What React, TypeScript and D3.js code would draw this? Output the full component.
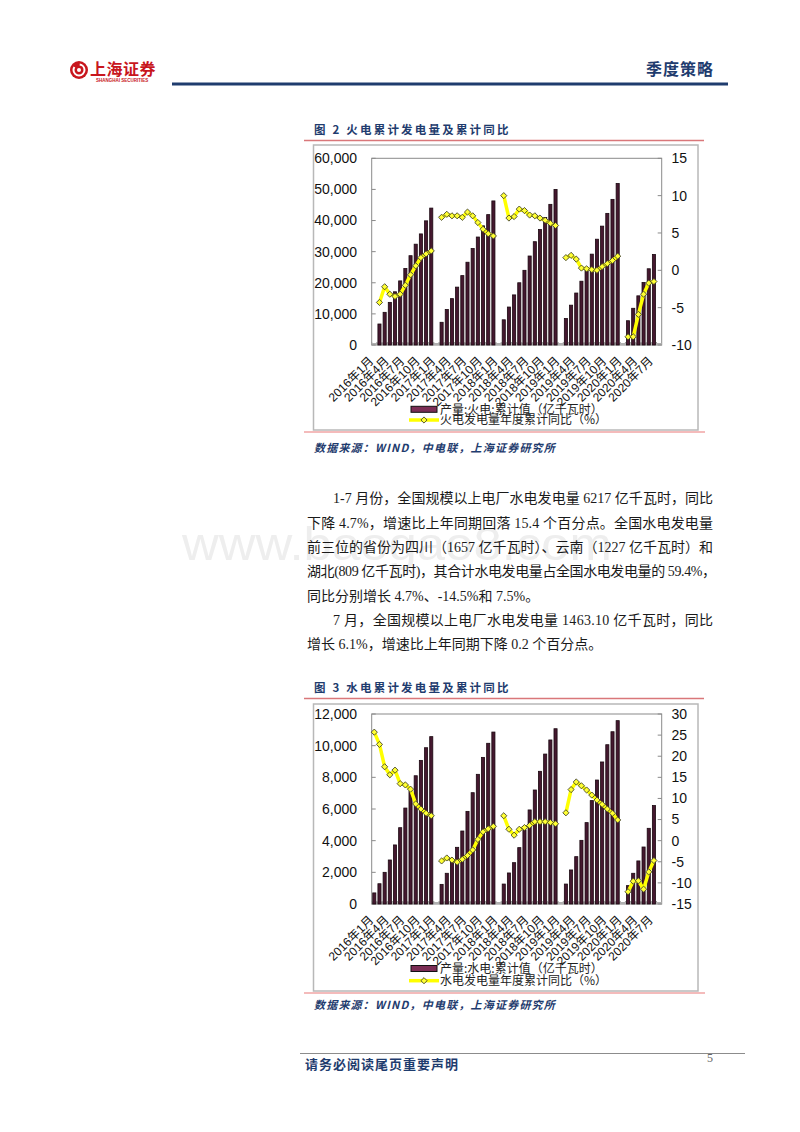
import * as d3 from "d3";

// month slots 2016年1月 .. 2020年8月 (last slot is empty in the source chart)
const months: string[] = d3.range(56).map((i) => `${2016 + Math.floor(i / 12)}年${(i % 12) + 1}月`);

const tickLabels = [
  "2016年1月", "2016年4月", "2016年7月", "2016年10月",
  "2017年1月", "2017年4月", "2017年7月", "2017年10月",
  "2018年1月", "2018年4月", "2018年7月", "2018年10月",
  "2019年1月", "2019年4月", "2019年7月", "2019年10月",
  "2020年1月", "2020年4月", "2020年7月",
];

// 产量:火电:累计值（亿千瓦时）
const thermalOutput: (number | null)[] = [
  null, 6750, 10500, 13700, 17100, 20600, 24600, 28700, 32400, 35700, 39900, 44000,
  null, 7300, 11400, 14900, 18600, 22300, 26600, 31000, 34700, 38300, 41900, 46300,
  null, 8100, 12200, 16100, 20000, 24000, 28600, 33200, 37100, 41000, 45200, 50000,
  null, 8500, 12800, 16700, 20500, 24600, 29200, 34000, 38200, 42300, 46800, 51900,
  null, 7800, 11800, 15800, 20100, 24500, 29100, null,
];

// 火电发电量年度累计同比（%）
const thermalYoy: (number | null)[] = [
  null, -4.3, -2.2, -3.2, -3.5, -3.2, -2.0, -0.6, 0.6, 1.7, 2.2, 2.6,
  null, 7.1, 7.5, 7.3, 7.3, 7.1, 7.8, 7.3, 6.4, 5.5, 4.9, 4.6,
  null, 10.0, 7.0, 7.2, 8.2, 8.0, 7.4, 7.3, 7.0, 6.7, 6.3, 6.0,
  null, 1.7, 2.0, 1.5, 0.3, 0.2, 0.1, 0.0, 0.5, 0.9, 1.3, 1.9,
  null, -8.9, -8.9, -5.9, -3.2, -1.7, -1.5, null,
];

// 产量:水电:累计值（亿千瓦时）
const hydroOutput: (number | null)[] = [
  700, 1280, 2000, 2780, 3730, 4820, 6060, 7100, 8100, 9070, 9870, 10570,
  null, 1240, 1940, 2740, 3580, 4610, 5850, 7030, 8190, 9260, 10150, 10860,
  null, 1260, 1960, 2610, 3560, 4670, 5940, 7200, 8380, 9470, 10360, 11070,
  null, 1260, 2150, 2990, 4020, 5140, 6530, 7830, 8970, 10060, 10880, 11580,
  null, 1160, 1940, 2720, 3600, 4780, 6217, null,
];

// 水电发电量年度累计同比（%）
const hydroYoy: (number | null)[] = [
  25.7, 22.8, 17.5, 15.6, 16.7, 13.5, 13.2, 12.2, 8.7, 7.5, 6.5, 5.9,
  null, -4.8, -4.1, -4.6, -5.1, -4.4, -3.5, -2.2, 0.3, 2.1, 2.8, 3.4,
  null, 5.9, 2.7, 1.3, 2.7, 3.1, 3.6, 4.5, 4.5, 4.5, 4.3, 4.0,
  null, 6.6, 12.1, 13.9, 13.0, 12.0, 10.8, 9.6, 8.6, 7.5, 6.5, 4.9,
  null, -12.1, -9.6, -9.5, -11.5, -7.4, -4.7, null,
];

const bodyLines = [
  "1-7 月份，全国规模以上电厂水电发电量 6217 亿千瓦时，同比",
  "下降 4.7%，增速比上年同期回落 15.4 个百分点。全国水电发电量",
  "前三位的省份为四川（1657 亿千瓦时）、云南（1227 亿千瓦时）和",
  "湖北(809 亿千瓦时)，其合计水电发电量占全国水电发电量的 59.4%，",
  "同比分别增长 4.7%、-14.5%和 7.5%。",
  "7 月，全国规模以上电厂水电发电量 1463.10 亿千瓦时，同比",
  "增长 6.1%，增速比上年同期下降 0.2 个百分点。",
];

const NAVY = "#1f3c6e";
const SANS = "'Liberation Sans', Arial, 'Noto Sans CJK SC', sans-serif";
const CJK = "'Noto Sans CJK SC', sans-serif";
const SERIF = "'Liberation Serif', 'Noto Sans CJK SC', serif";

interface ChartProps {
  title: string;
  titleY: number;
  boxTop: number;
  boxBottom: number;
  plotTop: number;
  plotBottom: number;
  leftMax: number;
  rightDomain: [number, number];
  rightTicks: number;
  bars: (number | null)[];
  yoy: (number | null)[];
  barName: string;
  lineName: string;
  legendY: [number, number];
  sourceY: number;
}

function Chart(p: ChartProps) {
  const L = 371.7;
  const R = 661.7;
  const x = d3.scaleBand<string>().domain(months).range([L, R]);
  const step = x.step();
  const bw = step * 0.6;
  const cx = (m: string) => (x(m) as number) + step / 2;
  const yL = d3.scaleLinear().domain([0, p.leftMax]).range([p.plotBottom, p.plotTop]);
  const yR = d3.scaleLinear().domain(p.rightDomain).range([p.plotBottom, p.plotTop]);
  const lineGen = d3
    .line<number | null>()
    .defined((d) => d != null)
    .x((_, i) => cx(months[i]))
    .y((d) => yR(d as number));
  const diamond = d3.symbol().type(d3.symbolSquare).size(19)();
  const fmt = d3.format(",");

  return (
    <g>
      <text x={314} y={p.titleY + 4} fontSize={11.5} fontWeight="bold" fill={NAVY} fontFamily={CJK} letterSpacing={2.2}>
        {p.title}
      </text>
      <line x1={304} x2={704} y1={p.titleY + 10.5} y2={p.titleY + 10.5} stroke="#d9777a" strokeWidth={1.5} />
      <rect x={313.5} y={p.boxTop} width={384.5} height={p.boxBottom - p.boxTop} fill="#fff" stroke="#b8b8b8" strokeWidth={1.5} />
      <line x1={304} x2={705} y1={p.boxBottom + 2} y2={p.boxBottom + 2} stroke="#f0a5a5" strokeWidth={1.5} />

      {/* plot frame */}
      <rect x={L} y={p.plotTop} width={R - L} height={p.plotBottom - p.plotTop} fill="none" stroke="#8a8a8a" strokeWidth={1} />

      {/* bottom category ticks */}
      {months.map((m) => (
        <line key={"t" + m} x1={x(m) as number} x2={x(m) as number} y1={p.plotBottom} y2={p.plotBottom - 3} stroke="#9a9a9a" strokeWidth={1} />
      ))}
      <line x1={L} x2={R} y1={p.plotBottom - 1} y2={p.plotBottom - 1} stroke="#b0b0b0" strokeWidth={2} />

      {/* left axis */}
      {yL.ticks(6).map((t) => (
        <g key={"l" + t}>
          <line x1={L} x2={L + 4} y1={yL(t)} y2={yL(t)} stroke="#8a8a8a" />
          <text x={357} y={yL(t)} dy="0.35em" textAnchor="end" fontSize={14} fontFamily={SANS} fill="#111">
            {fmt(t)}
          </text>
        </g>
      ))}
      {/* right axis */}
      {yR.ticks(p.rightTicks).map((t) => (
        <g key={"r" + t}>
          <line x1={R - 4} x2={R} y1={yR(t)} y2={yR(t)} stroke="#8a8a8a" />
          <text x={671.5} y={yR(t)} dy="0.35em" textAnchor="start" fontSize={14} fontFamily={SANS} fill="#111">
            {t}
          </text>
        </g>
      ))}

      {/* bars */}
      {p.bars.map((v, i) =>
        v == null ? null : (
          <rect
            key={"b" + i}
            x={cx(months[i]) - bw / 2}
            y={yL(v)}
            width={bw}
            height={p.plotBottom - yL(v)}
            fill="#45182f"
            stroke="#1a0810"
            strokeWidth={0.8}
          />
        )
      )}

      {/* yoy line */}
      <path d={lineGen(p.yoy) || ""} fill="none" stroke="#ffff00" strokeWidth={3.5} strokeLinejoin="round" />
      {p.yoy.map((v, i) =>
        v == null ? null : (
          <path
            key={"d" + i}
            d={diamond || ""}
            transform={`translate(${cx(months[i])},${yR(v)}) rotate(45)`}
            fill="#ffff33"
            stroke="#3a3a2a"
            strokeWidth={0.8}
          />
        )
      )}

      {/* x labels */}
      {tickLabels.map((t) => (
        <text
          key={"x" + t}
          transform={`translate(${cx(t) - 3},${p.plotBottom + 14}) rotate(-45)`}
          textAnchor="end"
          dominantBaseline="central"
          fontSize={12}
          fontFamily={SANS}
          fill="#111"
        >
          {t}
        </text>
      ))}

      {/* legend */}
      <rect x={411} y={p.legendY[0] - 3} width={26} height={6} fill="#7b2d55" stroke="#111" strokeWidth={1} />
      <text x={440} y={p.legendY[0]} dy="0.36em" fontSize={12} fontFamily={CJK} fill="#222">
        {p.barName}
      </text>
      <line x1={409} x2={439} y1={p.legendY[1]} y2={p.legendY[1]} stroke="#ffff00" strokeWidth={3.5} />
      <path d={diamond || ""} transform={`translate(424,${p.legendY[1]}) rotate(45)`} fill="#ffff33" stroke="#3a3a2a" strokeWidth={0.8} />
      <text x={440} y={p.legendY[1]} dy="0.36em" fontSize={12} fontFamily={CJK} fill="#222">
        {p.lineName}
      </text>

      <text x={314} y={p.sourceY + 4} fontSize={11} fontWeight="bold" fontStyle="italic" fill={NAVY} fontFamily={CJK} letterSpacing={1.2}>
        数据来源：WIND，中电联，上海证券研究所
      </text>
    </g>
  );
}

function Logo() {
  return (
    <g>
      <circle cx={79} cy={70} r={9} fill="#c8161d" />
      <circle cx={79} cy={70} r={5.5} fill="none" stroke="#fff" strokeWidth={2} strokeDasharray="20 6" />
      <circle cx={79} cy={70} r={2} fill="#fff" />
      <text x={90} y={75} fontSize={16} fontWeight="bold" fill="#c8161d" fontFamily={CJK} letterSpacing={0.5}>
        上海证券
      </text>
      <text x={96} y={82} fontSize={4.5} fontWeight="bold" fill="#c8161d" fontFamily={SANS}>
        SHANGHAI SECURITIES
      </text>
    </g>
  );
}

export default function App() {
  const lineBase = [503, 527.5, 552, 576, 600.5, 625, 648.5];
  const lineX = [333, 307, 307, 307, 307, 333, 307];
  const lineEnd = [713, 713, 713, 716, null, 713, null];

  return (
    <svg
      width={800}
      height={1132}
      viewBox="0 0 800 1132"
      style={{ position: "absolute", left: 0, top: 0, display: "block", background: "#fff" }}
    >
      <rect width={800} height={1132} fill="#fff" />
      <Logo />
      <text x={714} y={75} textAnchor="end" fontSize={16} fontWeight="bold" fill={NAVY} fontFamily={CJK} letterSpacing={1}>
        季度策略
      </text>
      <line x1={172} x2={728} y1={84} y2={84} stroke={NAVY} strokeWidth={3} />

      <Chart
        title="图 2 火电累计发电量及累计同比"
        titleY={130}
        boxTop={145}
        boxBottom={430}
        plotTop={158.3}
        plotBottom={345}
        leftMax={60000}
        rightDomain={[-10, 15]}
        rightTicks={5}
        bars={thermalOutput}
        yoy={thermalYoy}
        barName="产量:火电:累计值（亿千瓦时）"
        lineName="火电发电量年度累计同比（%）"
        legendY={[409.3, 420]}
        sourceY={448}
      />

      {/* watermark */}
      <text x={182} y={560} fontSize={46} fontFamily={SANS} fill="#eeeeee" textLength={430} lengthAdjust="spacingAndGlyphs">
        www.baogao8.com
      </text>

      {bodyLines.map((t, i) => {
        const end = lineEnd[i];
        return (
          <text
            key={"p" + i}
            x={lineX[i]}
            y={lineBase[i]}
            fontSize={14}
            fontFamily={SERIF}
            fill="#1a1a1a"
            {...(end != null ? { textLength: end - lineX[i], lengthAdjust: "spacing" } : {})}
          >
            {t}
          </text>
        );
      })}

      <Chart
        title="图 3 水电累计发电量及累计同比"
        titleY={688}
        boxTop={704}
        boxBottom={991}
        plotTop={714}
        plotBottom={904}
        leftMax={12000}
        rightDomain={[-15, 30]}
        rightTicks={9}
        bars={hydroOutput}
        yoy={hydroYoy}
        barName="产量:水电:累计值（亿千瓦时）"
        lineName="水电发电量年度累计同比（%）"
        legendY={[968.5, 980.7]}
        sourceY={1005}
      />

      <line x1={300} x2={745} y1={1053.5} y2={1053.5} stroke="#8c8c8c" strokeWidth={1} />
      <text x={710} y={1062} fontSize={12} fontFamily={SERIF} fill="#666" textAnchor="middle">
        5
      </text>
      <text x={305} y={1068.5} fontSize={13} fontWeight="bold" fill={NAVY} fontFamily={CJK} letterSpacing={1}>
        请务必阅读尾页重要声明
      </text>
    </svg>
  );
}
